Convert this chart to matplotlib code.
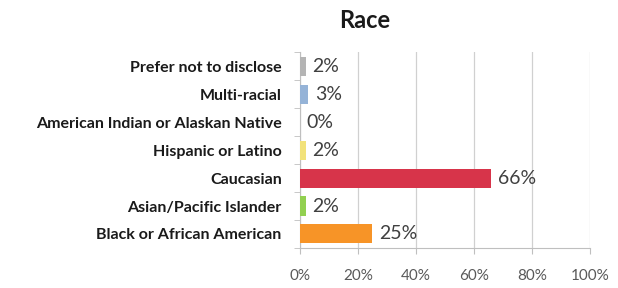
import matplotlib
matplotlib.use("Agg")
import matplotlib.pyplot as plt
import numpy as np

# data, bottom to top as drawn
categories = ["Black or African American", "Asian/Pacific Islander", "Caucasian",
              "Hispanic or Latino", "American Indian or Alaskan Native",
              "Multi-racial", "Prefer not to disclose"]
values = [25, 2, 66, 2, 0, 3, 2]
bar_colors = ["#f79427", "#92d050", "#d7344a", "#f2e27a", "#ffffff", "#95b3d7", "#b4b4b4"]
x_ticks = [0, 20, 40, 60, 80, 100]

plt.rcParams['font.family'] = ['Lato', 'DejaVu Sans']

fig = plt.figure(figsize=(6.18, 2.88), dpi=100)
ax = fig.add_axes([0.485, 0.139, 0.47, 0.68])

y = np.arange(len(categories))
ax.barh(y, values, height=0.68, color=bar_colors, zorder=3)

for yi, v in zip(y, values):
    ax.text(v + 2.2, yi, f"{v}%", va="center", ha="left", fontsize=14, color="#404040")

ax.set_xlim(0, 100)
ax.set_ylim(-0.5, len(categories) - 0.5)
ax.set_xticks(x_ticks)
ax.set_xticklabels([f"{t}%" for t in x_ticks], fontsize=11, color="#595959")
ax.set_yticks(y)
ax.set_yticklabels(categories, fontsize=11.5, fontweight="bold", color="#1a1a1a")
ax.set_yticks(np.arange(-0.5, len(categories), 1), minor=True)
ax.tick_params(axis="y", which="major", length=0, pad=13)
ax.tick_params(axis="y", which="minor", length=4, color="#bfbfbf")
ax.tick_params(axis="x", length=4, color="#bfbfbf", pad=11)

ax.grid(axis="x", color="#d0d0d0", linewidth=0.9, zorder=0)
for s in ["top", "right"]:
    ax.spines[s].set_visible(False)
for s in ["left", "bottom"]:
    ax.spines[s].set_color("#bfbfbf")

fig.text(0.59, 0.93, "Race", ha="center", va="center", fontsize=17, fontweight="bold", color="#1a1a1a")

fig.savefig("out.png", dpi=100, facecolor="white")
